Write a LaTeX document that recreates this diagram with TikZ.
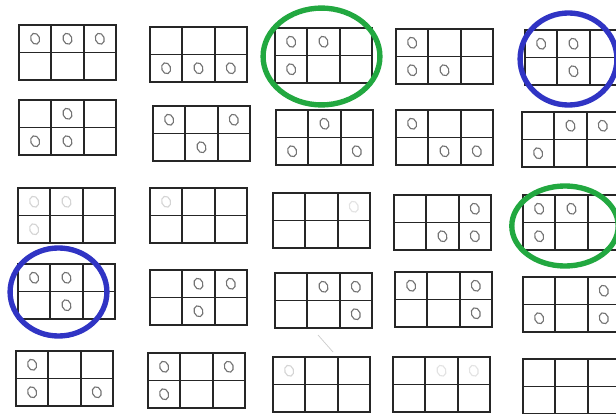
\documentclass[tikz,border=0pt]{standalone}
\definecolor{markgreen}{RGB}{34,168,64}
\definecolor{markblue}{RGB}{48,52,196}
\begin{document}
\begin{tikzpicture}[x=0.025cm, y=-0.025cm,
  gridline/.style={draw=black!85, line width=1.3pt},
  pen/.style={draw=black!55, line width=0.8pt},
  ring/.style={line width=3.8pt},
  ringgreen/.style={ring, draw=markgreen},
  ringblue/.style={ring, draw=markblue}]
\useasboundingbox (0,0) rectangle (616,413);
\fill[white] (0,0) rectangle (616,413);

% the 5x5 sheets of 2x3 cells
\foreach \bx/\by in {19/25, 150/27, 275/28, 396/29, 525/30,
                     19/100, 153/106, 276/110, 396/110, 522/112,
                     18/188, 150/188, 273/193, 394/195, 523/195,
                     18/264, 150/270, 275/273, 395/272, 523/277,
                     16/351, 148/353, 273/357, 393/357, 523/359}
  \draw[gridline] (\bx,\by) rectangle ++(97,55)
    (\bx+32.3,\by) -- ++(0,55) (\bx+64.7,\by) -- ++(0,55)
    (\bx,\by+27.5) -- ++(97,0);

% pencil marks: row/column/opacity
\foreach \bx/\by/\marks in {
    19/25/{1/1/1,1/2/1,1/3/1}, 150/27/{2/1/1,2/2/1,2/3/1},
    275/28/{1/1/1,1/2/1,2/1/1}, 396/29/{1/1/1,2/1/1,2/2/1},
    525/30/{1/1/1,1/2/1,2/2/1},
    19/100/{1/2/1,2/1/1,2/2/1}, 153/106/{1/1/1,1/3/1,2/2/1},
    276/110/{1/2/1,2/1/1,2/3/1}, 396/110/{1/1/1,2/2/1,2/3/1},
    522/112/{1/2/1,1/3/1,2/1/1},
    18/188/{1/1/.3,1/2/.3,2/1/.3}, 150/188/{1/1/.3},
    273/193/{1/3/.2}, 394/195/{1/3/1,2/2/1,2/3/1},
    523/195/{1/1/1,1/2/1,2/1/1},
    18/264/{1/1/1,1/2/1,2/2/1}, 150/270/{1/2/1,1/3/1,2/2/1},
    275/273/{1/2/1,1/3/1,2/3/1}, 395/272/{1/1/1,1/3/1,2/3/1},
    523/277/{1/3/1,2/1/1,2/3/1},
    16/351/{1/1/1,2/1/1,2/3/1}, 148/353/{1/1/1,1/3/1,2/1/1},
    273/357/{1/1/.3}, 393/357/{1/2/.2,1/3/.2}}
  \foreach \r/\c/\o in \marks
    \draw[pen, draw opacity=\o, rotate around={20:(\bx+32.33*\c-16.2,\by+27.5*\r-13.75)}]
      (\bx+32.33*\c-16.2,\by+27.5*\r-13.75) ellipse [x radius=0.11cm, y radius=0.14cm];

% stray pencil stroke
\draw[black!20, line width=0.5pt] (318,335) -- (333,352);

% highlight rings
\draw[ringgreen] (321.5,56.5) ellipse [x radius=1.46cm, y radius=1.21cm];
\draw[ringblue] (568.5,59) ellipse [x radius=1.21cm, y radius=1.15cm];
\draw[ringgreen] (565,226) ellipse [x radius=1.33cm, y radius=1.0cm];
\draw[ringblue] (58.5,292) ellipse [x radius=1.21cm, y radius=1.1cm];
\end{tikzpicture}
\end{document}
